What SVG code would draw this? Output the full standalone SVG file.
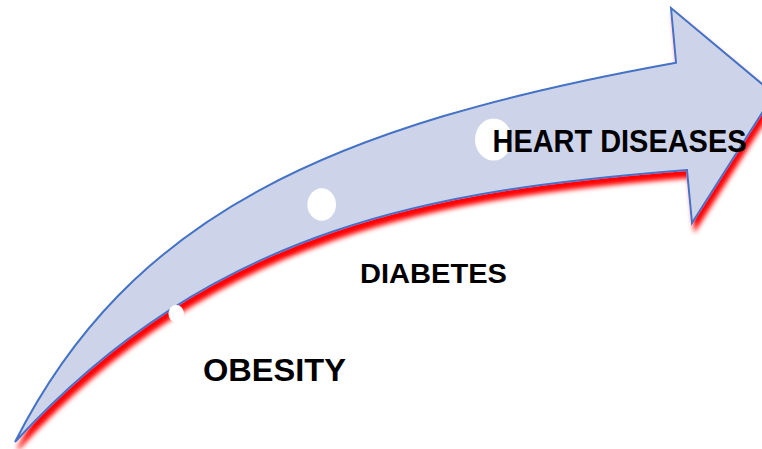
<svg xmlns="http://www.w3.org/2000/svg" width="762" height="449" viewBox="0 0 762 449">
  <defs>
    <filter id="redShadow" x="-10%" y="-10%" width="130%" height="130%">
      <feGaussianBlur in="SourceAlpha" stdDeviation="2.5" result="b"/>
      <feOffset in="b" dx="3" dy="7" result="o"/>
      <feFlood flood-color="#ff0000"/>
      <feComposite in2="o" operator="in" result="s"/>
      <feMerge>
        <feMergeNode in="s"/>
        <feMergeNode in="SourceGraphic"/>
      </feMerge>
    </filter>
  </defs>
  <style>
    .arrow { fill: #cdd4ea; stroke: #4472c4; stroke-width: 2; stroke-linejoin: miter; }
    .dot { fill: #ffffff; }
    .lbl { font-family: "Liberation Sans", Arial, sans-serif; font-weight: bold; fill: #000000; }
  </style>
  <rect width="762" height="449" fill="#ffffff"/>
  <g id="arrow">
    <path class="arrow" filter="url(#redShadow)" d="M15,442 C130,215 330,125 676,62.7 L671,8 L774,94 L692,223 L687,170 C437,190 215,224 15,442 Z"/>
  </g>
  <g id="obesity">
    <ellipse class="dot" cx="176.2" cy="313.6" rx="7.8" ry="8.8"/>
    <text class="lbl" x="203" y="381" font-size="31" textLength="143" lengthAdjust="spacingAndGlyphs">OBESITY</text>
  </g>
  <g id="diabetes">
    <ellipse class="dot" cx="321.7" cy="204.5" rx="14.3" ry="16.2"/>
    <text class="lbl" x="360" y="283.3" font-size="28" textLength="147" lengthAdjust="spacingAndGlyphs">DIABETES</text>
  </g>
  <g id="heart-diseases">
    <ellipse class="dot" cx="493.5" cy="139.5" rx="18.5" ry="21"/>
    <text class="lbl" x="492.5" y="152.3" font-size="31" textLength="254" lengthAdjust="spacingAndGlyphs">HEART DISEASES</text>
  </g>
  <g id="connectors"/>
</svg>
